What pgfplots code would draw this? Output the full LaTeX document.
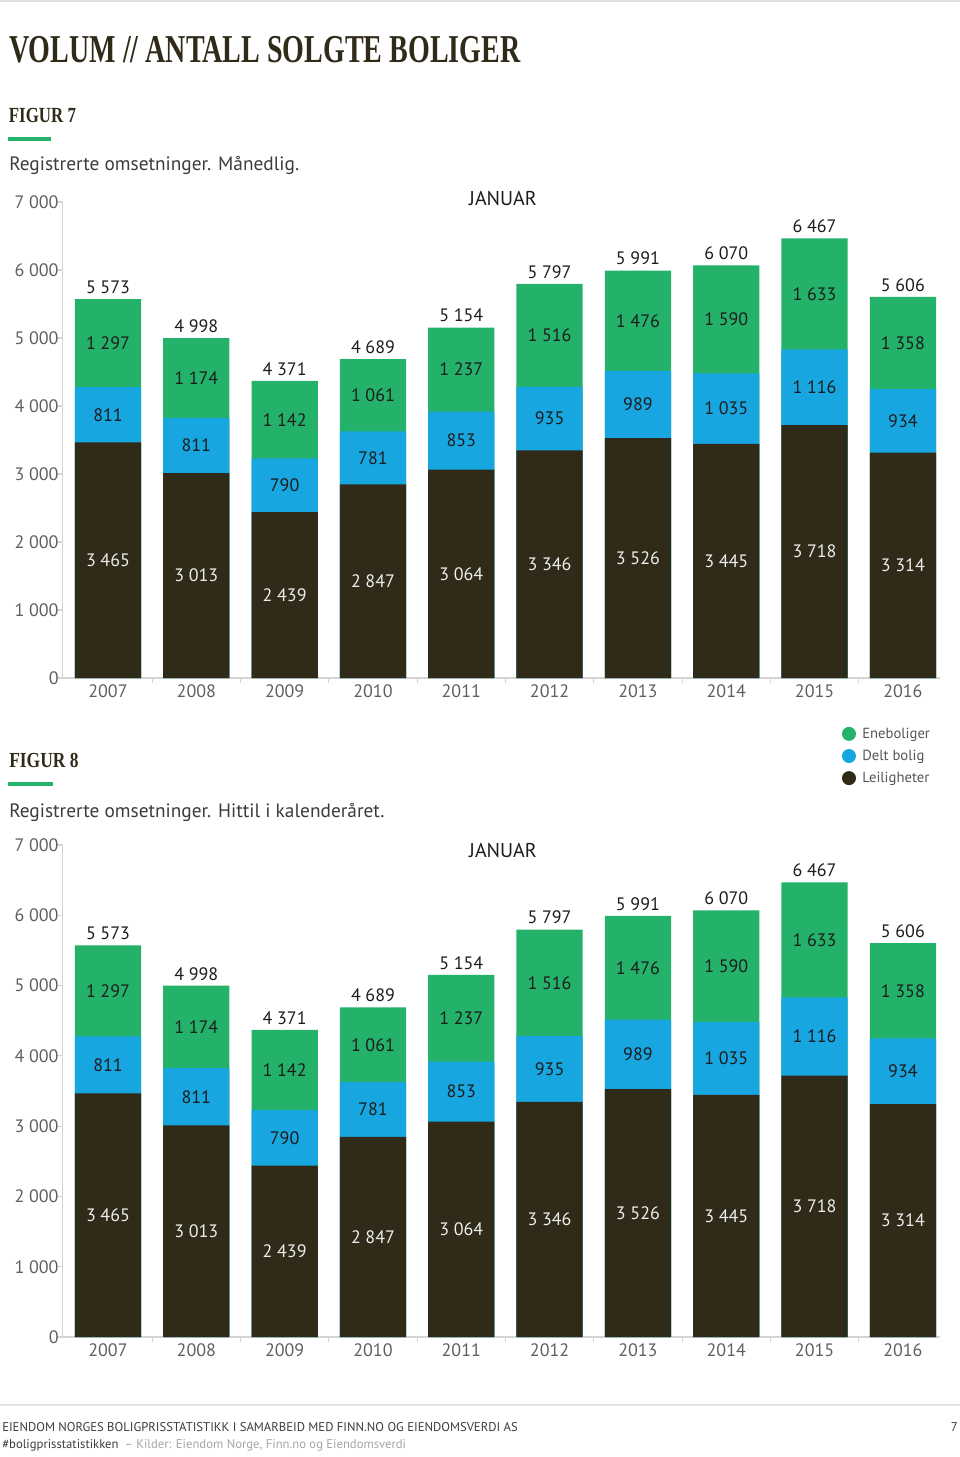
\documentclass[border=0pt]{standalone}
\usepackage{fontspec}
\setsansfont{PT Sans}
\newfontfamily\titlefont{Liberation Serif}
\usepackage{graphicx}
\usepackage{pgfplots}
\pgfplotsset{compat=1.18}
\usepackage{pgfplotstable}

\definecolor{cgreen}{RGB}{36,178,106}
\definecolor{cblue}{RGB}{24,166,224}
\definecolor{cdark}{RGB}{48,42,24}
\definecolor{ticktext}{RGB}{95,95,95}
\definecolor{axisgray}{RGB}{212,212,212}
\definecolor{labeltext}{RGB}{28,28,30}
\definecolor{legendtext}{RGB}{85,85,85}
\definecolor{foottext}{RGB}{60,60,60}
\definecolor{footlight}{RGB}{165,165,165}

\pgfplotstableread{
x leil delt ene total
0 3465 811 1297 5573
1 3013 811 1174 4998
2 2439 790 1142 4371
3 2847 781 1061 4689
4 3064 853 1237 5154
5 3346 935 1516 5797
6 3526 989 1476 5991
7 3445 1035 1590 6070
8 3718 1116 1633 6467
9 3314 934 1358 5606
}\voldata

\newcommand{\numfont}{\sffamily\fontsize{13.5pt}{16pt}\selectfont}

\pgfplotsset{
  /pgf/number format/assume math mode=true,
  /pgf/number format/1000 sep={\kern0.26em},
  chartbase/.style={
    scale only axis, width=658.125pt,
    xmin=-0.515, xmax=9.42, ymin=0, ymax=7000,
    anchor=south west,
  },
  barchart/.style={
    chartbase,
    ybar, bar width=0.75, bar shift=0pt,
    axis x line=bottom, axis y line=left,
    axis line style={draw=axisgray, line width=1pt, -},
    tick align=outside,
    tick style={draw=axisgray, line width=0.8pt},
    major tick length=3.75pt,
    ytick={0,1000,...,7000},
    yticklabel style={font=\numfont, text=ticktext, inner sep=0pt, xshift=1pt},
    xtick={0.5,1.5,...,8.5},
    xticklabels={},
    extra x ticks={0,1,...,9},
    extra x tick labels={2007,2008,2009,2010,2011,2012,2013,2014,2015,2016},
    extra x tick style={major tick length=0pt, tick label style={font=\numfont, text=ticktext, inner sep=0pt, yshift=-5pt}},
  },
  labelaxis/.style={
    chartbase, hide axis, clip=false,
    nodes near coords, point meta=explicit,
    every node near coord/.style={font=\numfont, inner sep=0pt, anchor=center, text=labeltext},
  },
}

\begin{document}
\begin{tikzpicture}
\path[use as bounding box] (0pt,0pt) rectangle (720pt,-1092.75pt);
\draw[gray!25, line width=1.5pt] (0pt,-0.75pt) -- (720pt,-0.75pt);

% ---------- headings ----------
\node[anchor=base west, inner sep=0pt, text=cdark] at (6.75pt,-46.5pt)
  {\resizebox{383.25pt}{19.6pt}{\titlefont\bfseries VOLUM // ANTALL SOLGTE BOLIGER}};

\node[anchor=base west, inner sep=0pt, text=cdark] at (6.5pt,-91.5pt)
  {\resizebox{50.25pt}{10.7pt}{\titlefont\bfseries FIGUR 7}};
\fill[cgreen] (6pt,-102.75pt) rectangle (38.25pt,-105.75pt);
\node[anchor=base west, inner sep=0pt, text=foottext] at (6.75pt,-127.5pt)
  {\sffamily\fontsize{14.5pt}{17pt}\selectfont Registrerte omsetninger. Månedlig.};
\node[anchor=base, inner sep=0pt, text=labeltext] at (377.25pt,-153.75pt)
  {\sffamily\fontsize{15pt}{17pt}\selectfont JANUAR};

\node[anchor=base west, inner sep=0pt, text=cdark] at (6.75pt,-575.25pt)
  {\resizebox{52pt}{10.7pt}{\titlefont\bfseries FIGUR 8}};
\fill[cgreen] (6pt,-586.5pt) rectangle (39.5pt,-589.5pt);
\node[anchor=base west, inner sep=0pt, text=foottext] at (6.75pt,-612.75pt)
  {\sffamily\fontsize{14.5pt}{17pt}\selectfont Registrerte omsetninger. Hittil i kalenderåret.};
\node[anchor=base, inner sep=0pt, text=labeltext] at (377.25pt,-642.75pt)
  {\sffamily\fontsize{15pt}{17pt}\selectfont JANUAR};

% ---------- figure 7 ----------
\begin{axis}[barchart, at={(46.875pt,-508.5pt)}, height=357pt]
\addplot[fill=cgreen, draw=none] table[x=x, y=total]{\voldata};
\addplot[fill=cblue, draw=none] table[x=x, y expr=\thisrow{leil}+\thisrow{delt}]{\voldata};
\addplot[fill=cdark, draw=none] table[x=x, y=leil]{\voldata};
\draw[axisgray, line width=1pt] (rel axis cs:0,0) -- ++(0pt,-18pt);
\end{axis}
\begin{axis}[labelaxis, at={(46.875pt,-508.5pt)}, height=357pt]
\addplot[draw=none, mark=none, every node near coord/.append style={text=white!93!black}]
  table[x=x, y expr=\thisrow{leil}/2, meta=leil]{\voldata};
\addplot[draw=none, mark=none]
  table[x=x, y expr=\thisrow{leil}+\thisrow{delt}/2, meta=delt]{\voldata};
\addplot[draw=none, mark=none]
  table[x=x, y expr=\thisrow{leil}+\thisrow{delt}+\thisrow{ene}/2, meta=ene]{\voldata};
\addplot[draw=none, mark=none, every node near coord/.append style={yshift=9pt}]
  table[x=x, y=total, meta=total]{\voldata};
\end{axis}

% ---------- figure 8 ----------
\begin{axis}[barchart, at={(46.875pt,-1002.75pt)}, height=369pt,
  legend style={at={(0.8883,1.2439)}, anchor=north west, draw=none, fill=none,
    inner sep=0pt, outer sep=0pt, row sep=3.3pt,
    font=\sffamily\fontsize{11pt}{12pt}\selectfont, text=legendtext},
  legend cell align=left,
  legend image code/.code={\fill (0pt,0pt) circle (5.25pt); \path (8pt,0pt);},
  ]
\addplot[fill=cgreen, draw=none] table[x=x, y=total]{\voldata};
\addlegendentry{Eneboliger}
\addplot[fill=cblue, draw=none] table[x=x, y expr=\thisrow{leil}+\thisrow{delt}]{\voldata};
\addlegendentry{Delt bolig}
\addplot[fill=cdark, draw=none] table[x=x, y=leil]{\voldata};
\addlegendentry{Leiligheter}
\draw[axisgray, line width=1pt] (rel axis cs:0,0) -- ++(0pt,-16pt);
\end{axis}
\begin{axis}[labelaxis, at={(46.875pt,-1002.75pt)}, height=369pt]
\addplot[draw=none, mark=none, every node near coord/.append style={text=white!93!black}]
  table[x=x, y expr=\thisrow{leil}/2, meta=leil]{\voldata};
\addplot[draw=none, mark=none]
  table[x=x, y expr=\thisrow{leil}+\thisrow{delt}/2, meta=delt]{\voldata};
\addplot[draw=none, mark=none]
  table[x=x, y expr=\thisrow{leil}+\thisrow{delt}+\thisrow{ene}/2, meta=ene]{\voldata};
\addplot[draw=none, mark=none, every node near coord/.append style={yshift=9pt}]
  table[x=x, y=total, meta=total]{\voldata};
\end{axis}

% ---------- footer ----------
\draw[gray!22, line width=1.5pt] (0pt,-1054pt) -- (720pt,-1054pt);
\node[anchor=base west, inner sep=0pt, text=foottext] at (1.5pt,-1073.6pt)
  {\sffamily\fontsize{9.5pt}{11pt}\selectfont EIENDOM NORGES BOLIGPRISSTATISTIKK I SAMARBEID MED FINN.NO OG EIENDOMSVERDI AS};
\node[anchor=base east, inner sep=0pt, text=foottext] at (718.5pt,-1073.6pt)
  {\sffamily\fontsize{9.5pt}{11pt}\selectfont 7};
\node[anchor=base west, inner sep=0pt] at (1.5pt,-1086.4pt)
  {\sffamily\fontsize{9.5pt}{11pt}\selectfont \textcolor{foottext}{\#boligprisstatistikken}\hspace{4.5pt}\textcolor{footlight}{– Kilder: Eiendom Norge, Finn.no og Eiendomsverdi}};
\end{tikzpicture}
\end{document}
